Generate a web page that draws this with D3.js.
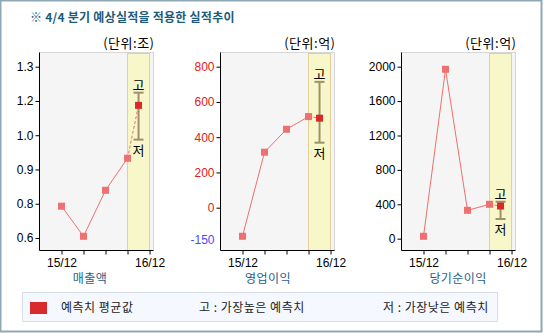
<!DOCTYPE html>
<html><head><meta charset="utf-8">
<script src="https://cdn.jsdelivr.net/npm/d3@7"></script>
<style>body{margin:0;background:#fff}svg{display:block}text{font-family:"Liberation Sans",Arial,sans-serif}</style>
</head><body>
<svg id="c" width="544" height="333"></svg>
<script>
// ---- data ----
const title = "※ 4/4 분기 예상실적을 적용한 실적추이";
const periods = ["15/12", "16/3", "16/6", "16/9", "16/12"];
const xTickLabels = ["15/12", "", "", "", "16/12"];
const metrics = ["매출액", "영업이익", "당기순이익"];
const units = ["(단위:조)", "(단위:억)", "(단위:억)"];
const salesActual = [0.73, 0.607, 0.795, 0.926];
const opActual = [-162, 315, 445, 517];
const netActual = [28, 1970, 330, 400];
const forecastAvg = [1.142, 508, 380];
const forecastHigh = [1.194, 714, 430];
const forecastLow = [1.002, 369, 229];
const yDomains = [[0.6, 1.3], [0, 800], [0, 2000]];
const yTickVals = [[0.6, 0.74, 0.88, 1.02, 1.16, 1.3], [-182, 0, 200, 400, 600, 800], [0, 400, 800, 1200, 1600, 2000]];
const yTickLabels = [["0.6", "0.8", "0.9", "1.0", "1.2", "1.3"], ["-150", "0", "200", "400", "600", "800"], ["0", "400", "800", "1200", "1600", "2000"]];
const legendLabels = ["예측치 평균값", "고 : 가장높은 예측치", "저 : 가장낮은 예측치"];
const actuals = [salesActual, opActual, netActual];

// ---- layout ----
const svg = d3.select("#c");
const kr = "'Noto Sans CJK KR',sans-serif";
svg.append("rect").attr("x", 0.5).attr("y", 0.5).attr("width", 541).attr("height", 331)
  .attr("fill", "#fff").attr("stroke", "#8fa8b6").attr("stroke-width", 2);
svg.append("text").attr("x", 30).attr("y", 22).attr("font-size", 12).attr("font-weight", "bold")
  .attr("letter-spacing", 0.25).attr("fill", "#1d5b7a").style("font-family", kr).text(title);

const origins = [39.5, 220.5, 401.5];
const plotW = 114, plotTop = 52.5, plotBottom = 250.5;
const yRanges = [[238, 66.7], [207.7, 66.7], [238.7, 66.7]];
const labelCenters = [90, 268, 458];

metrics.forEach((m, ci) => {
  const ox = origins[ci];
  const g = svg.append("g");
  const x = d3.scaleLinear().domain([-1, 4.18]).range([ox, ox + plotW]);
  const y = d3.scaleLinear().domain(yDomains[ci]).range(yRanges[ci]);
  // background
  g.append("rect").attr("x", ox).attr("y", plotTop).attr("width", plotW).attr("height", plotBottom - plotTop)
    .attr("fill", "#f5f5f5").attr("stroke", "#d6d6d6");
  // forecast band
  g.append("rect").attr("x", x(3)).attr("y", plotTop + 1).attr("width", x(4) - x(3)).attr("height", plotBottom - plotTop - 1)
    .attr("fill", "#f7f7c9").attr("stroke", "#e3cf9a");
  // axes
  const ya = d3.axisLeft(y).tickValues(yTickVals[ci]).tickSize(4).tickPadding(2)
    .tickFormat((d, i) => yTickLabels[ci][i]);
  const yg = g.append("g").attr("transform", `translate(${ox},0)`).call(ya);
  yg.select(".domain").attr("d", `M0,${plotTop}V${plotBottom}`).attr("stroke", "#000");
  yg.selectAll("text").attr("font-size", 12).style("font-family", "'Liberation Sans',Arial,sans-serif")
    .attr("fill", (d, i) => ci === 1 ? (+yTickLabels[ci][i] < 0 ? "#4a4aff" : "#e02020") : "#000");
  yg.selectAll(".tick").filter((d, i) => +yTickLabels[ci][i] < 0).select("line").remove();
  const xa = d3.axisBottom(x).tickValues([0, 1, 2, 3, 4]).tickSize(4).tickPadding(4)
    .tickFormat((d, i) => xTickLabels[i]);
  const xg = g.append("g").attr("transform", `translate(0,${plotBottom})`).call(xa);
  xg.select(".domain").attr("d", `M${ox},0H${ox + plotW}`).attr("stroke", "#000");
  xg.selectAll("text").attr("font-size", 12).attr("fill", "#000").style("font-family", "'Liberation Sans',Arial,sans-serif");
  // lines
  const act = actuals[ci];
  g.append("path").datum(act).attr("fill", "none").attr("stroke", "#ef6f6f").attr("stroke-width", 1)
    .attr("d", d3.line().x((d, i) => x(i)).y(d => y(d)));
  g.append("path").datum([act[3], forecastAvg[ci]]).attr("fill", "none").attr("stroke", "#ef6f6f")
    .attr("stroke-width", 1).attr("stroke-dasharray", "3,2")
    .attr("d", d3.line().x((d, i) => x(3 + i * 0.5)).y(d => y(d)));
  // error bar
  const ex = x(3.5);
  const eb = g.append("g").attr("stroke", "#a08f6c").attr("stroke-width", 2);
  eb.append("line").attr("x1", ex).attr("x2", ex).attr("y1", y(forecastHigh[ci])).attr("y2", y(forecastLow[ci]));
  eb.append("line").attr("x1", ex - 5).attr("x2", ex + 5).attr("y1", y(forecastHigh[ci])).attr("y2", y(forecastHigh[ci]));
  eb.append("line").attr("x1", ex - 5).attr("x2", ex + 5).attr("y1", y(forecastLow[ci])).attr("y2", y(forecastLow[ci]));
  g.append("text").attr("x", ex).attr("y", y(forecastHigh[ci]) - 3).attr("text-anchor", "middle")
    .attr("font-size", 13).style("font-family", kr).text("고");
  g.append("text").attr("x", ex).attr("y", y(forecastLow[ci]) + 15).attr("text-anchor", "middle")
    .attr("font-size", 13).style("font-family", kr).text("저");
  // markers
  g.selectAll("rect.pt").data(act).join("rect").attr("class", "pt")
    .attr("x", (d, i) => x(i) - 3.5).attr("y", d => y(d) - 3.5).attr("width", 7).attr("height", 7).attr("fill", "#ef7070");
  g.append("rect").attr("x", ex - 3.5).attr("y", y(forecastAvg[ci]) - 3.5).attr("width", 7).attr("height", 7).attr("fill", "#d92a2a");
  // unit & category labels
  g.append("text").attr("x", ox + plotW + 1).attr("y", 48).attr("text-anchor", "end").attr("font-size", 13)
    .attr("letter-spacing", 0.5).style("font-family", kr).text(units[ci]);
  g.append("text").attr("x", labelCenters[ci]).attr("y", 283).attr("text-anchor", "middle").attr("font-size", 12)
    .attr("letter-spacing", 0.4).attr("fill", "#1f5e8c").style("font-family", kr).text(m);
});

// legend
svg.append("rect").attr("x", 22.5).attr("y", 292.5).attr("width", 475).attr("height", 29)
  .attr("fill", "#f5f8fe").attr("stroke", "#d5dee9");
svg.append("rect").attr("x", 30).attr("y", 302).attr("width", 17).attr("height", 12).attr("fill", "#d92b2b");
const lx = [61, 199, 383];
legendLabels.forEach((t, i) => svg.append("text").attr("x", lx[i]).attr("y", 312).attr("font-size", 12)
  .attr("letter-spacing", 0.5).attr("fill", "#222").style("font-family", kr).text(t));
</script>
</body></html>
